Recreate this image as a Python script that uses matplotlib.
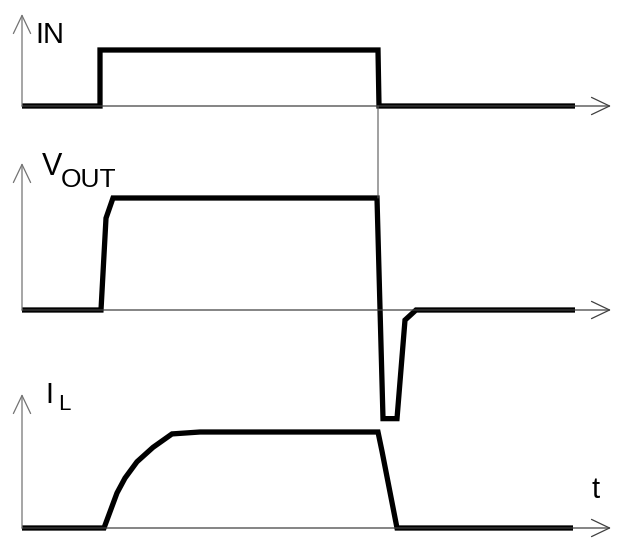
import matplotlib
matplotlib.use('Agg')
import matplotlib.pyplot as plt
from matplotlib.patches import ConnectionPatch

plt.rcParams['font.family'] = ['Liberation Sans', 'DejaVu Sans']

W, H = 623, 539

# time axis, shared by the three traces (arbitrary units)
t_end = 589

# IN : logic input
in_t = [0, 78, 78, 356, 357, 553]
in_v = [0, 0, 1, 1, 0, 0]

# V_OUT : output voltage, with the negative spike at turn-off
vout_t = [0, 79, 84, 91, 355, 361, 375, 383, 394, 553]
vout_v = [0, 0, 0.82, 1.0, 1.0, -0.97, -0.97, -0.09, 0, 0]

# I_L : load current
il_t = [0, 82, 95, 103, 115, 131, 150, 178, 356, 360, 375, 551]
il_v = [0, 0, 0.365, 0.52, 0.69, 0.84, 0.98, 1.0, 1.0, 0.80, 0, 0]


def panel(fig, base, scale, y_tip):
    # transparent axes on the whole figure, baseline at pixel row `base`,
    # `scale` pixels per unit level
    ax = fig.add_axes([0, 0, 1, 1])
    ax.set_xlim(-22, W - 22)
    ax.set_ylim((base - H) / scale, base / scale)
    ax.axis('off')
    ax.patch.set_alpha(0)
    arr = dict(arrowstyle='->,head_length=1.3,head_width=0.62',
               lw=0.9, color='0.25', shrinkA=0, shrinkB=0,
               mutation_scale=10)
    ax.annotate('', xy=(t_end, 0), xytext=(0, 0), arrowprops=arr)
    ax.annotate('', xy=(0, (base - y_tip) / scale), xytext=(0, 0),
                arrowprops=dict(arr, color='0.45'))
    return ax


def trace(ax, t, v):
    ax.plot(t, v, color='black', lw=3.8, solid_joinstyle='miter',
            solid_capstyle='butt', clip_on=False)


fig = plt.figure(figsize=(W / 100, H / 100), dpi=100)

ax_in = panel(fig, 106, 56, 14)
ax_out = panel(fig, 310, 112, 163)
ax_il = panel(fig, 528, 96, 394)

trace(ax_in, in_t, in_v)
trace(ax_out, vout_t, vout_v)
trace(ax_il, il_t, il_v)

# thin guide from the IN falling edge down to V_OUT
con = ConnectionPatch(xyA=(356, 0), coordsA=ax_in.transData,
                      xyB=(356, 1.0), coordsB=ax_out.transData,
                      color='0.35', lw=0.8)
fig.add_artist(con)


def label(x, y, s, size):
    fig.text(x / W, 1 - y / H, s, fontsize=size, ha='left', va='baseline')


label(35.5, 43, 'IN', 21)
label(41.5, 175, 'V', 22)
label(60.5, 187, 'OUT', 19)
label(45.5, 403, 'I', 21)
label(58.5, 410, 'L', 16)
label(591.5, 498, 't', 21)

plt.savefig('out.png', dpi=100)
